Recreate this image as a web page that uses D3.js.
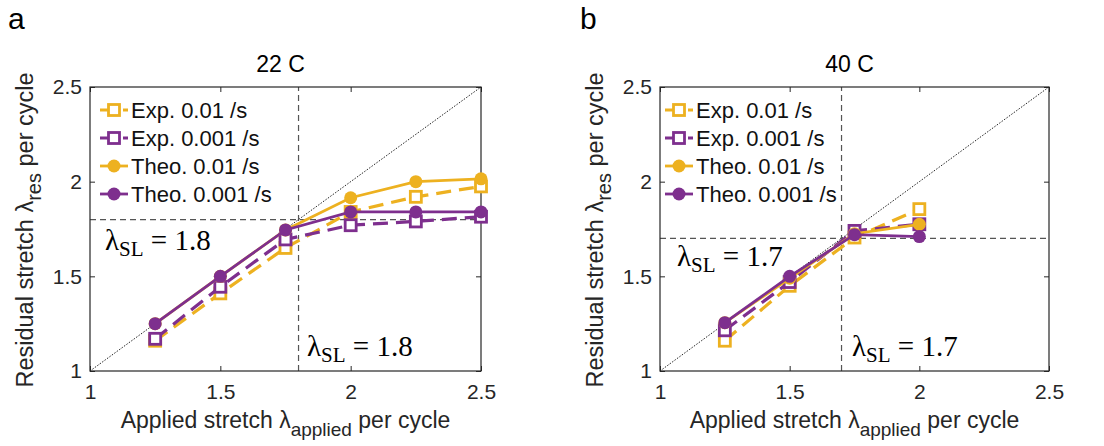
<!DOCTYPE html>
<html>
<head>
<meta charset="utf-8">
<script src="https://cdn.jsdelivr.net/npm/d3@7"></script>
<style>
  body { margin: 0; background: #fff; }
  svg { display: block; }
  .tick text { font-family: "Liberation Sans", Arial, sans-serif; font-size: 21px; fill: #262626; }
  .tick line { stroke: #262626; }
</style>
</head>
<body>
<svg id="chart" width="1104" height="446"></svg>
<script>
// panel a : 22 C
var stretchA   = [1.25, 1.5, 1.75, 2, 2.25, 2.5];
var expFastA   = [1.16, 1.41, 1.65, 1.84, 1.92, 1.975];
var expSlowA   = [1.17, 1.445, 1.695, 1.77, 1.79, 1.815];
var theoFastA  = [1.25, 1.5, 1.745, 1.915, 2.0, 2.015];
var theoSlowA  = [1.25, 1.5, 1.745, 1.84, 1.84, 1.84];

// panel b : 40 C
var stretchB   = [1.25, 1.5, 1.75, 2];
var expFastB   = [1.16, 1.45, 1.705, 1.855];
var expSlowB   = [1.215, 1.47, 1.74, 1.775];
var theoFastB  = [1.255, 1.49, 1.725, 1.775];
var theoSlowB  = [1.255, 1.5, 1.72, 1.71];

var tickVals = [1, 1.5, 2, 2.5];
var legendLabels = ["Exp. 0.01 /s", "Exp. 0.001 /s", "Theo. 0.01 /s", "Theo. 0.001 /s"];

var orange = "#EDB120",
    purple = "#7E2F8E",
    sans = "'Liberation Sans', Arial, sans-serif",
    serif = "'Liberation Serif', 'Times New Roman', serif";

var svg = d3.select("#chart");

drawPanel({
  letter: "a", letterX: 8, title: "22 C", left: 90, right: 481,
  sl: 1.8, slText: "1.8",
  stretch: stretchA,
  series: [expFastA, expSlowA, theoFastA, theoSlowA],
  lab1: [105, 250], lab2: [307, 356],
  legX: 100, yLabX: 33
});

drawPanel({
  letter: "b", letterX: 580, title: "40 C", left: 660, right: 1049,
  sl: 1.7, slText: "1.7",
  stretch: stretchB,
  series: [expFastB, expSlowB, theoFastB, theoSlowB],
  lab1: [677, 266], lab2: [852, 356],
  legX: 665, yLabX: 603
});

function drawPanel(p) {
  var top = 87, bottom = 371;

  var x = d3.scaleLinear().domain([1, 2.5]).range([p.left, p.right]);
  var y = d3.scaleLinear().domain([1, 2.5]).range([bottom, top]);

  var g = svg.append("g");

  // panel letter and title
  g.append("text")
    .attr("x", p.letterX).attr("y", 29)
    .style("font-family", sans).style("font-size", "30px")
    .text(p.letter);

  g.append("text")
    .attr("x", (p.left + p.right) / 2 - 5).attr("y", 72)
    .attr("text-anchor", "middle")
    .style("font-family", sans).style("font-size", "23px")
    .text(p.title);

  // diagonal y = x
  g.append("line")
    .attr("x1", x(1)).attr("y1", y(1))
    .attr("x2", x(2.5)).attr("y2", y(2.5))
    .style("stroke", "#222").style("stroke-width", 1)
    .style("stroke-dasharray", "1.5,1.5");

  // stretch limit lines
  g.append("line")
    .attr("x1", x(p.sl)).attr("x2", x(p.sl))
    .attr("y1", y(1)).attr("y2", y(2.5))
    .style("stroke", "#555").style("stroke-width", 1.2)
    .style("stroke-dasharray", "6,4");
  g.append("line")
    .attr("x1", x(1)).attr("x2", x(2.5))
    .attr("y1", y(p.sl)).attr("y2", y(p.sl))
    .style("stroke", "#555").style("stroke-width", 1.2)
    .style("stroke-dasharray", "6,4");

  // axes, ticks inside, box on
  g.append("g")
    .attr("transform", "translate(0," + bottom + ")")
    .call(d3.axisBottom(x).tickValues(tickVals).tickSize(-5).tickPadding(13)
      .tickFormat(function(d) { return String(d); }))
    .call(function(a) { a.select(".domain").remove(); });
  g.append("g")
    .attr("transform", "translate(" + p.left + ",0)")
    .call(d3.axisLeft(y).tickValues(tickVals).tickSize(-5).tickPadding(8)
      .tickFormat(function(d) { return String(d); }))
    .call(function(a) { a.select(".domain").remove(); });
  g.append("g")
    .attr("transform", "translate(0," + top + ")")
    .call(d3.axisTop(x).tickValues(tickVals).tickSize(-5).tickFormat(""))
    .call(function(a) { a.select(".domain").remove(); });
  g.append("g")
    .attr("transform", "translate(" + p.right + ",0)")
    .call(d3.axisRight(y).tickValues(tickVals).tickSize(-5).tickFormat(""))
    .call(function(a) { a.select(".domain").remove(); });

  g.append("rect")
    .attr("x", p.left).attr("y", top)
    .attr("width", p.right - p.left).attr("height", bottom - top)
    .style("fill", "none").style("stroke", "#262626").style("stroke-width", 1.2);

  // axis labels
  var xl = g.append("text")
    .attr("x", (p.left + p.right) / 2).attr("y", 428)
    .attr("text-anchor", "middle")
    .style("font-family", sans).style("font-size", "23px").style("fill", "#262626");
  xl.append("tspan").text("Applied stretch λ");
  xl.append("tspan").attr("dy", 8).style("font-size", "19px").text("applied");
  xl.append("tspan").attr("dy", -8).text(" per cycle");

  var yl = g.append("text")
    .attr("transform", "translate(" + p.yLabX + "," + ((top + bottom) / 2 + 1) + ") rotate(-90)")
    .attr("text-anchor", "middle")
    .style("font-family", sans).style("font-size", "23.5px").style("fill", "#262626");
  yl.append("tspan").text("Residual stretch λ");
  yl.append("tspan").attr("dy", 8).style("font-size", "20px").text("res");
  yl.append("tspan").attr("dy", -8).text(" per cycle");

  // lambda_SL annotations
  [p.lab1, p.lab2].forEach(function(pos) {
    var t = g.append("text")
      .attr("x", pos[0]).attr("y", pos[1])
      .style("font-family", serif).style("font-size", "29px");
    t.append("tspan").text("λ");
    t.append("tspan").attr("dy", 6).style("font-size", "21px").text("SL");
    t.append("tspan").attr("dy", -6).text(" = " + p.slText);
  });

  // data series
  var styles = [
    {color: orange, dashed: true,  marker: "square"},
    {color: purple, dashed: true,  marker: "square"},
    {color: orange, dashed: false, marker: "circle"},
    {color: purple, dashed: false, marker: "circle"}
  ];

  var line = d3.line()
    .x(function(d) { return x(d[0]); })
    .y(function(d) { return y(d[1]); });

  p.series.forEach(function(vals, i) {
    var st = styles[i];
    var pts = p.stretch.map(function(s, j) { return [s, vals[j]]; });

    g.append("path")
      .datum(pts)
      .attr("d", line)
      .style("fill", "none")
      .style("stroke", st.color)
      .style("stroke-width", st.dashed ? 3.2 : 2.8)
      .style("stroke-dasharray", st.dashed ? "15,8" : null);

    drawMarkers(g, pts.map(function(d) { return [x(d[0]), y(d[1])]; }), st);
  });

  // legend
  styles.forEach(function(st, i) {
    var ly = 110 + i * 28;
    g.append("line")
      .attr("x1", p.legX).attr("x2", p.legX + 28)
      .attr("y1", ly).attr("y2", ly)
      .style("stroke", st.color)
      .style("stroke-width", st.dashed ? 3.2 : 2.8)
      .style("stroke-dasharray", st.dashed ? "15,8" : null);
    drawMarkers(g, [[p.legX + 14, ly]], st);
    g.append("text")
      .attr("x", p.legX + 31).attr("y", ly + 8)
      .style("font-family", sans).style("font-size", "22px").style("fill", "#111")
      .text(legendLabels[i]);
  });
}

function drawMarkers(g, pts, st) {
  if (st.marker == "square") {
    g.selectAll(null).data(pts).enter().append("rect")
      .attr("x", function(d) { return d[0] - 5.5; })
      .attr("y", function(d) { return d[1] - 5.5; })
      .attr("width", 11).attr("height", 11)
      .style("fill", "#fff")
      .style("stroke", st.color).style("stroke-width", 2.8);
  } else {
    g.selectAll(null).data(pts).enter().append("circle")
      .attr("cx", function(d) { return d[0]; })
      .attr("cy", function(d) { return d[1]; })
      .attr("r", 6.5)
      .style("fill", st.color);
  }
}
</script>
</body>
</html>
